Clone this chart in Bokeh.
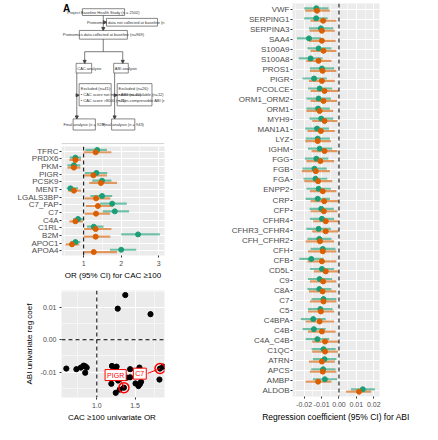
from bokeh.plotting import figure
from bokeh.models import (Range1d, FixedTicker, NumeralTickFormatter, Span, Legend,
                          LegendItem, Label, Arrow, NormalHead)
from bokeh.layouts import row, column
from bokeh.embed import file_html
from bokeh.resources import INLINE

UNI = "#1B9E77"
MULTI = "#D95F02"

# ---------------- Panel A: flowchart texts ----------------
flow_top = "Project Baseline Health Study (n = 2502)"
flow_not = "Proteomics data not collected at baseline (n=1533)"
flow_mid = "Proteomics data collected at baseline (n=969)"
flow_cac = "CAC analysis"
flow_abi = "ABI analysis"
flow_cac_excl = ["Excluded (n=41):", "\u2022 CAC score not measured (n=40)", "\u2022 CAC score >8000 (n=1)"]
flow_abi_excl = ["Excluded (n=26):", "\u2022 ABI not available (n=12)", "\u2022 Non-compressible ABI (n=14)"]
flow_cac_final = "Final analysis (n = 928)"
flow_abi_final = "Final analysis (n = 943)"

# ---------------- Panel B: OR for CAC >= 100 ----------------
b_proteins = ["TFRC", "PRDX6", "PKM", "PIGR", "PCSK9", "MENT", "LGALS3BP",
              "C7_FAP", "C7", "C4A", "C1RL", "B2M", "APOC1", "APOA4"]
b_uni = [1.36, 0.78, 0.74, 1.34, 1.49, 0.65, 1.49, 1.76, 1.83, 0.85, 1.27, 2.45, 0.78, 2.00]
b_uni_lo = [1.05, 0.63, 0.57, 1.03, 1.23, 0.55, 1.18, 1.44, 1.51, 0.72, 1.09, 2.00, 0.65, 1.70]
b_uni_hi = [1.62, 0.93, 0.91, 1.63, 1.74, 0.85, 1.76, 2.15, 2.21, 0.98, 1.53, 3.03, 0.91, 2.40]
b_multi = [1.32, 0.78, 0.74, 1.26, 1.46, 0.74, 1.33, 1.38, 1.33, 0.78, 1.32, 1.32, 0.69, 1.27]
b_multi_lo = [1.00, 0.62, 0.57, 1.00, 1.15, 0.59, 1.03, 1.06, 1.03, 0.62, 1.01, 1.00, 0.52, 1.00]
b_multi_hi = [1.74, 0.93, 0.91, 1.62, 1.89, 0.93, 1.71, 1.78, 1.70, 0.98, 1.74, 1.71, 0.88, 1.89]

# ---------------- Panel C: scatter ----------------
c_cac_or = [0.601, 0.733, 0.791, 0.827, 0.848, 0.868, 0.848,
            1.373, 1.274, 1.703,
            1.198, 1.259, 1.248, 1.190, 1.248, 1.299, 1.279, 1.355, 1.330, 1.350,
            1.393, 1.436, 1.436,
            1.558, 1.558, 1.507, 1.545, 1.564, 1.579,
            1.827, 1.868, 1.820]
c_abi_coef = [-0.0089, -0.0091, -0.0086, -0.0080, -0.0082, -0.0086, -0.0102,
              0.0138, 0.0096, 0.0079,
              -0.0081, -0.0083, -0.0091, -0.0136, -0.0164, -0.0154, -0.0126, -0.0148, -0.0100, -0.0113,
              -0.0117, -0.0091, -0.0116,
              -0.0086, -0.0100, -0.0135, -0.0143, -0.0137, -0.0130,
              -0.0089, -0.0083, -0.0123]
c_label_names = ["PIGR", "C7"]
c_label_idx = [17, 29]

# ---------------- Panel D: regression coef for ABI ----------------
d_proteins = ["VWF", "SERPING1", "SERPINA3", "SAA4", "S100A9", "S100A8", "PROS1", "PIGR",
              "PCOLCE", "ORM1_ORM2", "ORM1", "MYH9", "MAN1A1", "LYZ", "IGHM", "FGG", "FGB",
              "FGA", "ENPP2", "CRP", "CFP", "CFHR4", "CFHR3_CFHR4", "CFH_CFHR2", "CFH", "CFB",
              "CD5L", "C9", "C8A", "C7", "C5", "C4BPA", "C4B", "C4A_C4B", "C1QC", "ATRN",
              "APCS", "AMBP", "ALDOB"]
d_uni = [-0.0130, -0.0131, -0.0104, -0.0172, -0.0117, -0.0163, -0.0098, -0.0143,
         -0.0111, -0.0117, -0.0120, -0.0102, -0.0126, -0.0122, -0.0111, -0.0130, -0.0141,
         -0.0135, -0.0117, -0.0122, -0.0102, -0.0098, -0.0117, -0.0113, -0.0093, -0.0159,
         -0.0098, -0.0111, -0.0113, -0.0089, -0.0107, -0.0148, -0.0144, -0.0124, -0.0089, -0.0083,
         -0.0091, -0.0081, 0.0137]
d_uni_lo = [-0.0200, -0.0200, -0.0172, -0.0241, -0.0181, -0.0231, -0.0167, -0.0209,
            -0.0178, -0.0187, -0.0187, -0.0169, -0.0194, -0.0191, -0.0178, -0.0196, -0.0209,
            -0.0204, -0.0187, -0.0191, -0.0169, -0.0167, -0.0187, -0.0181, -0.0163, -0.0228,
            -0.0167, -0.0178, -0.0181, -0.0157, -0.0178, -0.0219, -0.0209, -0.0191, -0.0157, -0.0150,
            -0.0159, -0.0150, 0.0069]
d_uni_hi = [-0.0060, -0.0065, -0.0033, -0.0102, -0.0043, -0.0094, -0.0028, -0.0070,
            -0.0039, -0.0046, -0.0052, -0.0033, -0.0057, -0.0052, -0.0039, -0.0061, -0.0070,
            -0.0067, -0.0046, -0.0052, -0.0030, -0.0028, -0.0046, -0.0043, -0.0020, -0.0089,
            -0.0028, -0.0039, -0.0043, -0.0015, -0.0037, -0.0076, -0.0076, -0.0056, -0.0019, -0.0015,
            -0.0020, -0.0011, 0.0207]
d_multi = [-0.0126, -0.0091, -0.0098, -0.0098, -0.0089, -0.0117, -0.0094, -0.0098,
           -0.0083, -0.0089, -0.0111, -0.0083, -0.0104, -0.0122, -0.0083, -0.0107, -0.0133,
           -0.0120, -0.0093, -0.0085, -0.0087, -0.0076, -0.0076, -0.0109, -0.0093, -0.0098,
           -0.0076, -0.0091, -0.0094, -0.0089, -0.0104, -0.0111, -0.0098, -0.0080, -0.0080, -0.0098,
           -0.0093, -0.0120, 0.0115]
d_multi_lo = [-0.0194, -0.0163, -0.0169, -0.0172, -0.0163, -0.0187, -0.0167, -0.0172,
              -0.0163, -0.0163, -0.0187, -0.0154, -0.0181, -0.0194, -0.0157, -0.0187, -0.0213,
              -0.0200, -0.0167, -0.0163, -0.0163, -0.0148, -0.0154, -0.0191, -0.0178, -0.0181,
              -0.0144, -0.0167, -0.0172, -0.0167, -0.0178, -0.0191, -0.0178, -0.0154, -0.0154, -0.0172,
              -0.0167, -0.0191, 0.0041]
d_multi_hi = [-0.0052, -0.0015, -0.0024, -0.0019, -0.0015, -0.0043, -0.0015, -0.0024,
              -0.0002, -0.0011, -0.0033, -0.0009, -0.0024, -0.0046, -0.0009, -0.0028, -0.0052,
              -0.0039, -0.0015, -0.0002, -0.0009, -0.0002, -0.0002, -0.0028, -0.0015, -0.0015,
              -0.0002, -0.0015, -0.0015, -0.0015, -0.0028, -0.0028, -0.0019, -0.0002, -0.0006, -0.0024,
              -0.0015, -0.0043, 0.0185]


def style(p):
    p.background_fill_color = "#EBEBEB"
    p.border_fill_color = "white"
    p.outline_line_color = None
    p.grid.grid_line_color = "white"
    p.grid.grid_line_width = 1
    p.grid.minor_grid_line_color = "white"
    p.grid.minor_grid_line_width = 0.5
    for ax in p.axis:
        ax.axis_line_color = None
        ax.major_tick_line_color = "#333333"
        ax.major_tick_out = 2
        ax.major_tick_in = 0
        ax.minor_tick_line_color = None
        ax.major_label_standoff = 1
        ax.major_label_text_color = "#4D4D4D"
        ax.axis_label_text_font_style = "normal"
        ax.axis_label_text_color = "black"
        ax.axis_label_standoff = 2


def panel_letter(p, text, x, y):
    p.add_layout(Label(x=x, y=y, x_units="screen", y_units="screen", text=text,
                       text_font_style="bold", text_font_size="10px",
                       text_align="left", text_baseline="middle", text_color="black"))


def forest(cats, u, ul, uh, m, ml, mh, dodge, width, height, borders, xr, ticks, minor,
           fmt, xlabel, ylab_size, xtick_size, xlab_size):
    n = len(cats)
    pos = list(range(n))
    p = figure(width=width, height=height, x_range=Range1d(*xr),
               y_range=Range1d(n - 1 + 0.6, -0.6), output_backend="svg",
               toolbar_location=None, min_border_left=borders[0], min_border_right=borders[1],
               min_border_top=borders[2], min_border_bottom=borders[3])
    style(p)
    p.xaxis.ticker = FixedTicker(ticks=ticks, minor_ticks=minor)
    p.xaxis.formatter = NumeralTickFormatter(format=fmt)
    p.yaxis.ticker = FixedTicker(ticks=pos)
    p.yaxis.major_label_overrides = {i: c for i, c in enumerate(cats)}
    p.yaxis.major_label_text_font_size = ylab_size
    p.xaxis.major_label_text_font_size = xtick_size
    p.xaxis.axis_label = xlabel
    p.xaxis.axis_label_text_font_size = xlab_size
    yu = [i - dodge for i in pos]
    ym = [i + dodge for i in pos]
    seg_u = p.segment(x0=ul, y0=yu, x1=uh, y1=yu, line_color=UNI, line_width=2.2, line_alpha=0.6)
    seg_m = p.segment(x0=ml, y0=ym, x1=mh, y1=ym, line_color=MULTI, line_width=2.2, line_alpha=0.6)
    pt_u = p.scatter(u, yu, size=5, color=UNI)
    pt_m = p.scatter(m, ym, size=5, color=MULTI)
    # legend kept in the central layer, placed (screen px from frame's bottom-left)
    # in the right-hand margin, vertically centred on the panel
    frame_w = width - borders[0] - borders[1]
    frame_h = height - borders[2] - borders[3]
    leg = Legend(items=[LegendItem(label="Uni", renderers=[seg_u, pt_u]),
                        LegendItem(label="Multi", renderers=[seg_m, pt_m])],
                 title="Model", location=(frame_w + 9, frame_h / 2 - 22),
                 orientation="vertical")
    leg.title_text_font_size = "9px"
    leg.title_text_font_style = "normal"
    leg.title_standoff = 2
    leg.label_text_font_size = "7px"
    leg.glyph_width = 11
    leg.glyph_height = 13
    leg.label_height = 13
    leg.label_standoff = 3
    leg.spacing = 1
    leg.padding = 2
    leg.margin = 0
    leg.border_line_color = None
    leg.background_fill_alpha = 0
    p.add_layout(leg)
    return p


# ---------------- Figure A ----------------
WL, WR = 214, 208
pa = figure(width=WL, height=145, x_range=Range1d(0, 222), y_range=Range1d(150, 0),
            output_backend="svg", toolbar_location=None, min_border=0)
pa.axis.visible = False
pa.grid.visible = False
pa.outline_line_color = None
pa.background_fill_color = "white"
pa.border_fill_color = "white"

boxes = [  # left, right, top, bottom (layout in reference px)
    (45, 136, 8.5, 15.5), (97, 207, 18.5, 26.5), (38.5, 142, 31, 40),
    (31.5, 65, 65, 75), (112.5, 144, 65, 75),
    (38, 107, 86, 109), (120, 195, 86, 109),
    (25, 73, 122.5, 134), (108, 158, 122.5, 134)]
pa.quad(left=[b[0] for b in boxes], right=[b[1] for b in boxes],
        top=[b[2] for b in boxes], bottom=[b[3] for b in boxes],
        fill_color="white", line_color="#555555", line_width=0.7)

FS = "4px"
def ftext(x, y, t, align="center"):
    pa.text(x=[x], y=[y], text=[t], text_font_size=FS,
            text_color="#333333", text_align=align, text_baseline="middle")

ftext(90.5, 12, flow_top)
ftext(152, 22.5, flow_not)
ftext(90.25, 35.5, flow_mid)
ftext(34, 70, flow_cac, "left")
ftext(115, 70, flow_abi, "left")
for k, t in enumerate(flow_cac_excl):
    ftext(41.5, 91.5 + 6 * k, t, "left")
for k, t in enumerate(flow_abi_excl):
    ftext(123, 91.5 + 6 * k, t, "left")
ftext(49, 128.2, flow_cac_final)
ftext(133, 128.2, flow_abi_final)

LC = "#444444"
pa.segment(x0=[90, 50, 33, 114.5], y0=[40, 53, 75, 75], x1=[90, 132, 33, 114.5],
           y1=[53, 53, 98, 98], line_color=LC, line_width=0.7)
for (xs, ys, xe, ye) in [(90, 15.5, 90, 31), (90, 22.5, 97, 22.5), (50, 53, 50, 65),
                         (132, 53, 132, 65), (33, 98, 38, 98), (33, 98, 33, 122.5),
                         (114.5, 98, 120, 98), (114.5, 98, 114.5, 122.5)]:
    pa.add_layout(Arrow(x_start=xs, y_start=ys, x_end=xe, y_end=ye, line_color=LC,
                        line_width=0.7, end=NormalHead(size=3, fill_color=LC, line_color=LC)))
pa.segment(x0=[0], y0=[148], x1=[222], y1=[148], line_color="#C8C8C8", line_width=0.8)
pa.text(x=[3], y=[8], text=["A"], text_font_style="bold",
        text_font_size="10px", text_align="left", text_baseline="middle")

# ---------------- Figure B ----------------
pb = forest(b_proteins, b_uni, b_uni_lo, b_uni_hi, b_multi, b_multi_lo, b_multi_hi,
            0.15, WL, 137, (61, 50, 1, 24), (0.41, 3.154), [1, 2, 3], [0.5, 1.5, 2.5],
            "0", "OR (95% CI) for CAC \u2265100", "8px", "7px", "8px")
pb.add_layout(Span(location=1, dimension="height", line_dash="4 3", line_color="black", line_width=1))
panel_letter(pb, "B", -59, 106)

# ---------------- Figure C ----------------
CB = (35, 9, 8, 21)
CH = 142
pc = figure(width=WL, height=CH, x_range=Range1d(0.538, 1.886), y_range=Range1d(-0.01784, 0.0152),
            output_backend="svg", toolbar_location=None, min_border_left=CB[0], min_border_right=CB[1],
            min_border_top=CB[2], min_border_bottom=CB[3])
style(pc)
pc.xaxis.ticker = FixedTicker(ticks=[1.0, 1.5], minor_ticks=[0.75, 1.25, 1.75])
pc.yaxis.ticker = FixedTicker(ticks=[-0.01, 0.0, 0.01], minor_ticks=[-0.015, -0.005, 0.005, 0.015])
pc.xaxis.formatter = NumeralTickFormatter(format="0.0")
pc.yaxis.formatter = NumeralTickFormatter(format="0.00")
pc.axis.major_label_text_font_size = "7px"
pc.xaxis.axis_label = "CAC  \u2265100 univariate OR"
pc.yaxis.axis_label = "ABI univariate reg coef"
pc.axis.axis_label_text_font_size = "8px"
pc.yaxis.axis_label_standoff = 4
pc.add_layout(Span(location=1, dimension="height", line_dash="4 3", line_color="black", line_width=1))
pc.add_layout(Span(location=0, dimension="width", line_dash="4 3", line_color="black", line_width=1))
pc.scatter(c_cac_or, c_abi_coef, size=5.2, color="black")
hx = [c_cac_or[i] for i in c_label_idx]
hy = [c_abi_coef[i] for i in c_label_idx]
pc.scatter(hx, hy, size=10, fill_color=None, line_color="red", line_width=1.5)
kx = (WL - CB[0] - CB[1]) / (1.886 - 0.538)
ky = (CH - CB[2] - CB[3]) / (0.0152 + 0.01784)
offsets = [(-8.3, 12.6), (-20.2, -5.1)]
for (name, x, y, (ox, oy)) in zip(c_label_names, hx, hy, offsets):
    pc.segment(x0=[x], y0=[y], x1=[x + ox / kx], y1=[y + oy / ky], line_color="red", line_width=1)
    pc.add_layout(Label(x=x, y=y, x_offset=ox, y_offset=oy, text=name,
                        text_font_size="7px", text_color="red", text_align="center",
                        text_baseline="middle", background_fill_color="white",
                        border_line_color="red", border_line_width=1, padding=2))
panel_letter(pc, "C", -33, 111)

# ---------------- Figure D ----------------
pd_ = forest(d_proteins, d_uni, d_uni_lo, d_uni_hi, d_multi, d_multi_lo, d_multi_hi,
             0.12, WR, 424, (78, 43, 3, 22), (-0.0267, 0.0233),
             [-0.02, -0.01, 0.0, 0.01, 0.02], [-0.025, -0.015, -0.005, 0.005, 0.015],
             "0.00", "Regression coefficient (95% CI) for ABI", "8px", "7px", "8.5px")
pd_.add_layout(Span(location=0, dimension="height", line_dash="4 3", line_color="black", line_width=1))
panel_letter(pd_, "D", -74, 394)

layout = row(column(pa, pb, pc), pd_)
open("out.html", "w").write(file_html(layout, INLINE))
